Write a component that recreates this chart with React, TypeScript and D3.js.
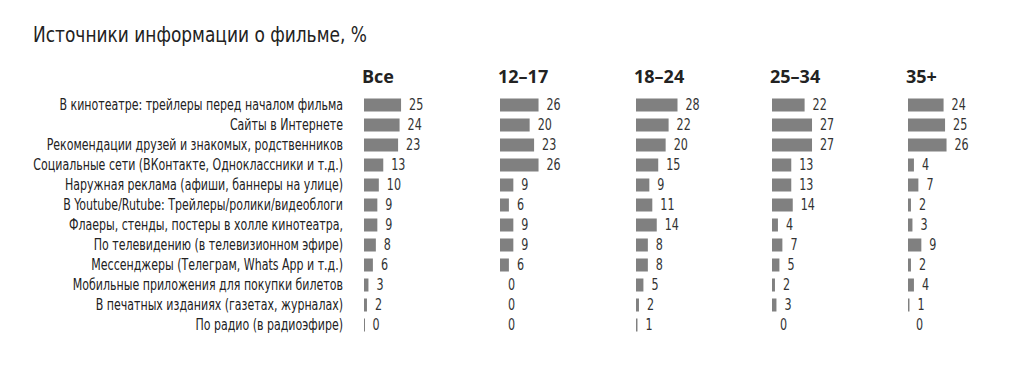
import React, { useEffect, useRef } from "react";
import * as d3 from "d3";

const sources = [
  "В кинотеатре: трейлеры перед началом фильма",
  "Сайты в Интернете",
  "Рекомендации друзей и знакомых, родственников",
  "Социальные сети (ВКонтакте, Одноклассники и т.д.)",
  "Наружная реклама (афиши, баннеры на улице)",
  "В Youtube/Rutube: Трейлеры/ролики/видеоблоги",
  "Флаеры, стенды, постеры в холле кинотеатра,",
  "По телевидению (в телевизионном эфире)",
  "Мессенджеры (Телеграм, Whats App и т.д.)",
  "Мобильные приложения для покупки билетов",
  "В печатных изданиях (газетах, журналах)",
  "По радио (в радиоэфире)",
];

const groups = ["Все", "12–17", "18–24", "25–34", "35+"];

const allValues = [25, 24, 23, 13, 10, 9, 9, 8, 6, 3, 2, 0.4];
const teenValues = [26, 20, 23, 26, 9, 6, 9, 9, 6, 0, 0, 0];
const youngValues = [28, 22, 20, 15, 9, 11, 14, 8, 8, 5, 2, 1];
const adultValues = [22, 27, 27, 13, 13, 14, 4, 7, 5, 2, 3, 0];
const olderValues = [24, 25, 26, 4, 7, 2, 3, 9, 2, 4, 1, 0];

const series = [allValues, teenValues, youngValues, adultValues, olderValues];

const width = 1027;
const height = 375;
const labelFont = "'DejaVu Sans Condensed', 'Roboto', sans-serif";

const App = () => {
  const svgRef = useRef<SVGSVGElement>(null);

  useEffect(() => {
    const svg = d3.select(svgRef.current);
    svg.selectAll("*").remove();

    // title, squeezed to the condensed width of the original
    const title = svg
      .append("text")
      .attr("font-family", labelFont)
      .attr("font-size", 21)
      .attr("fill", "#222")
      .text("Источники информации о фильме, %");
    const tw = (title.node() as SVGTextElement).getComputedTextLength();
    title.attr("transform", `translate(33,42) scale(${334 / tw},1)`);

    const col = d3.scaleBand().domain(groups).range([364, 364 + 136 * 5]);
    const row = d3
      .scaleBand()
      .domain(sources)
      .range([95, 95 + 20 * sources.length])
      .paddingInner(0.35)
      .paddingOuter(0.175);
    const x = d3.scaleLinear().domain([0, 28]).range([0, 41.5]);

    const labels = svg
      .append("g")
      .selectAll("text")
      .data(sources)
      .join("text")
      .attr("dy", "0.35em")
      .attr("text-anchor", "end")
      .attr("font-family", labelFont)
      .attr("font-size", 15)
      .attr("fill", "#222")
      .text((d) => d);
    const maxLen = d3.max(labels.nodes(), (n) => (n as SVGTextElement).getComputedTextLength())!;
    const squeeze = 310 / maxLen;
    labels.attr(
      "transform",
      (d) => `translate(343,${row(d)! + row.bandwidth() / 2}) scale(${squeeze},1)`
    );

    groups.forEach((g, gi) => {
      const x0 = col(g)!;
      const grp = svg.append("g").attr("transform", `translate(${x0},0)`);

      grp
        .append("text")
        .attr("x", -2)
        .attr("y", 83)
        .attr("font-family", "'Open Sans', sans-serif")
        .attr("font-weight", 700)
        .attr("font-size", 18)
        .attr("fill", "#222")
        .text(g);

      const vals = series[gi].map((v, i) => ({ v, s: sources[i] }));

      grp
        .selectAll("rect")
        .data(vals)
        .join("rect")
        .attr("x", 0)
        .attr("y", (d) => row(d.s)!)
        .attr("width", (d) => (d.v > 0 ? Math.max(1, x(d.v)) : 0))
        .attr("height", row.bandwidth())
        .attr("fill", "#808080");

      grp
        .selectAll("text.val")
        .data(vals)
        .join("text")
        .attr("class", "val")
        .attr("dy", "0.35em")
        .attr(
          "transform",
          (d) => `translate(${x(d.v) + 8},${row(d.s)! + row.bandwidth() / 2}) scale(0.8,1)`
        )
        .attr("font-family", labelFont)
        .attr("font-size", 15.5)
        .attr("fill", "#333")
        .text((d) => Math.round(d.v));
    });
  }, []);

  return <svg ref={svgRef} width={width} height={height} style={{ display: "block", margin: -8 }} />;
};

export default App;
